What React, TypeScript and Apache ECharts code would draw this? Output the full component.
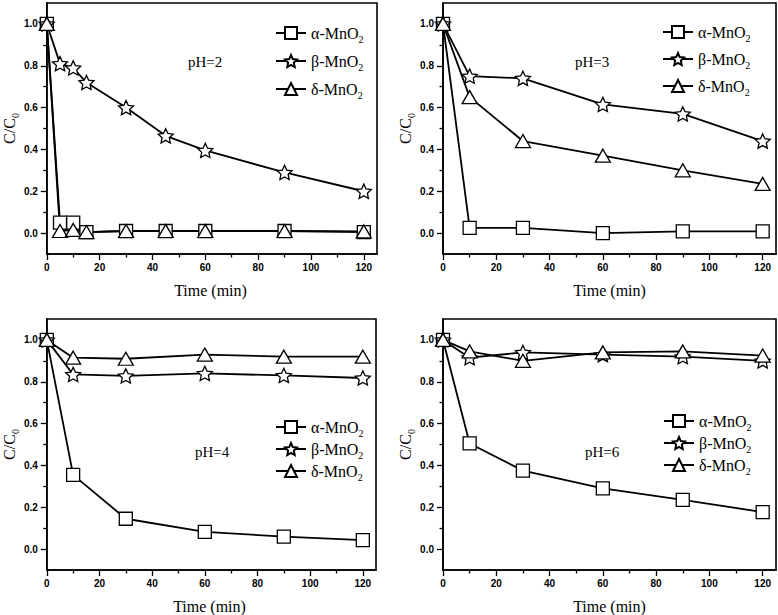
import React, { useEffect, useRef } from 'react';
import * as echarts from 'echarts';

// time points (min)
const timesPH2 = [0, 5, 10, 15, 30, 45, 60, 90, 120];
const times = [0, 10, 30, 60, 90, 120];

// C/C0
const alphaPH2 = [1.0, 0.05, 0.05, 0.005, 0.01, 0.01, 0.01, 0.01, 0.005];
const betaPH2 = [1.0, 0.81, 0.79, 0.72, 0.6, 0.465, 0.395, 0.29, 0.2];
const deltaPH2 = [1.0, 0.01, 0.015, 0.005, 0.01, 0.01, 0.01, 0.01, 0.008];

const alphaPH3 = [1.0, 0.025, 0.025, 0.0, 0.008, 0.008];
const betaPH3 = [1.0, 0.75, 0.74, 0.615, 0.57, 0.44];
const deltaPH3 = [1.0, 0.65, 0.44, 0.37, 0.3, 0.235];

const alphaPH4 = [1.0, 0.355, 0.145, 0.082, 0.06, 0.043];
const betaPH4 = [1.0, 0.835, 0.828, 0.84, 0.83, 0.818];
const deltaPH4 = [1.0, 0.915, 0.91, 0.93, 0.92, 0.92];

const alphaPH6 = [1.0, 0.505, 0.375, 0.29, 0.235, 0.177];
const betaPH6 = [1.0, 0.915, 0.94, 0.93, 0.92, 0.9];
const deltaPH6 = [1.0, 0.945, 0.9, 0.94, 0.945, 0.925];

const seriesNames = ['α-MnO2', 'β-MnO2', 'δ-MnO2'];
const phLabels = ['pH=2', 'pH=3', 'pH=4', 'pH=6'];
const xName = 'Time (min)';

const xMajor = [0, 20, 40, 60, 80, 100, 120];
const yMajor = [0, 0.2, 0.4, 0.6, 0.8, 1.0];
const yMinor = [0.1, 0.3, 0.5, 0.7, 0.9];

const STAR = 'path://M50,0L64.1,30.6L97.6,34.5L72.8,57.4L79.4,90.5L50,74L20.6,90.5L27.2,57.4L2.4,34.5L35.9,30.6Z';
const SERIF = '"Liberation Serif", "Times New Roman", serif';
const SANS = '"Liberation Sans", Arial, sans-serif';

const GRID_W = 333;
const GRID_H = 251;

const panels = [
  { x: timesPH2, ys: [alphaPH2, betaPH2, deltaPH2], grid: { left: 44, top: 3 }, legend: { left: 275, top: 25, gap: 9 }, ph: { x: 188, y: 62 } },
  { x: times, ys: [alphaPH3, betaPH3, deltaPH3], grid: { left: 443, top: 3 }, legend: { left: 662, top: 24, gap: 8 }, ph: { x: 575, y: 62 } },
  { x: times, ys: [alphaPH4, betaPH4, deltaPH4], grid: { left: 43, top: 319 }, legend: { left: 275, top: 419, gap: 3 }, ph: { x: 195, y: 452 } },
  { x: times, ys: [alphaPH6, betaPH6, deltaPH6], grid: { left: 443, top: 319 }, legend: { left: 663, top: 413, gap: 3 }, ph: { x: 585, y: 452 } },
];

const symbols = ['rect', STAR, 'triangle'];
const symbolSizes: any[] = [13, 15, [15, 13]];

const black = '#000';
const tickLine = { color: black, width: 1.3 };
const labelStyle = { color: black, fontFamily: SANS, fontWeight: 'bold' as const, fontSize: 10 };
const nameRich = (size: number, sub: number, lh: number) => ({
  a: { fontFamily: SERIF, fontSize: size, fontWeight: 'normal', color: black, lineHeight: lh },
  s: { fontFamily: SERIF, fontSize: sub, fontWeight: 'normal', color: black, lineHeight: lh, verticalAlign: 'bottom' },
});

export default function App() {
  const ref = useRef<HTMLDivElement | null>(null);

  useEffect(() => {
    if (!ref.current) return;
    const chart = echarts.init(ref.current, undefined, { renderer: 'svg' });

    const grids: any[] = [];
    const xAxes: any[] = [];
    const yAxes: any[] = [];
    const series: any[] = [];
    const legends: any[] = [];
    const graphics: any[] = [];

    panels.forEach((p, g) => {
      grids.push({
        left: p.grid.left, top: p.grid.top, width: GRID_W, height: GRID_H,
        show: true, borderColor: black, borderWidth: 1.6, backgroundColor: 'transparent',
      });
      xAxes.push({
        gridIndex: g, type: 'value', min: 0, max: 125, interval: 20, position: 'bottom',
        axisLine: { onZero: false, lineStyle: { color: black, width: 1.6 } },
        axisTick: { length: 6, lineStyle: tickLine, customValues: xMajor },
        minorTick: { show: true, splitNumber: 2, length: 3.5, lineStyle: tickLine },
        axisLabel: { ...labelStyle, margin: 8, customValues: xMajor },
        splitLine: { show: false },
      });
      yAxes.push({
        gridIndex: g, type: 'value', min: -0.1, max: 1.1, position: 'left',
        name: '{a|C/C}{s|0}', nameLocation: 'middle', nameGap: 20,
        nameTextStyle: { fontFamily: SERIF, fontSize: 16, fontWeight: 'normal', color: black, rich: nameRich(16, 10, 22) },
        axisLine: { onZero: false, lineStyle: { color: black, width: 1.6 } },
        axisTick: { length: 6, lineStyle: tickLine, customValues: yMajor },
        axisLabel: { ...labelStyle, margin: 9, customValues: yMajor, formatter: (v: number) => v.toFixed(1) },
        splitLine: { show: false },
      });
      // overlay axis carrying only the minor ticks of the y axis
      yAxes.push({
        gridIndex: g, type: 'value', min: -0.1, max: 1.1, position: 'left',
        axisLine: { show: false },
        axisTick: { length: 3.5, lineStyle: tickLine, customValues: yMinor },
        axisLabel: { show: false },
        splitLine: { show: false },
      });
      p.ys.forEach((vals, s) => {
        series.push({
          name: seriesNames[s], type: 'line', xAxisIndex: g, yAxisIndex: 2 * g,
          data: p.x.map((t, i) => [t, vals[i]]),
          symbol: symbols[s], symbolSize: symbolSizes[s], symbolKeepAspect: true,
          itemStyle: { color: '#fff', borderColor: black, borderWidth: 1.3 },
          lineStyle: { color: black, width: 1.8 },
          emphasis: { disabled: true },
        });
      });
      legends.push({
        orient: 'vertical', left: p.legend.left, top: p.legend.top, itemGap: p.legend.gap,
        itemWidth: 30, itemHeight: 15, padding: 0, selectedMode: false,
        data: seriesNames,
        formatter: (name: string) => `{a|${name.slice(0, -1)}}{s|2}`,
        textStyle: {
          fontFamily: SERIF, fontSize: 16, color: black,
          rich: {
            a: { fontFamily: SERIF, fontSize: 16, color: black, lineHeight: 20 },
            s: { fontFamily: SERIF, fontSize: 10, color: black, lineHeight: 22, verticalAlign: 'bottom' },
          },
        },
      });
      // x axis title
      graphics.push({
        type: 'text', x: p.grid.left + GRID_W / 2, y: p.grid.top + GRID_H + 36,
        style: { text: xName, font: `16px ${SERIF}`, fill: black, align: 'center', verticalAlign: 'middle' },
      });
      graphics.push({
        type: 'text', x: p.ph.x, y: p.ph.y,
        style: { text: phLabels[g], font: `15px ${SERIF}`, fill: black, verticalAlign: 'middle' },
      });
    });

    chart.setOption({
      animation: false,
      backgroundColor: '#fff',
      grid: grids,
      xAxis: xAxes,
      yAxis: yAxes,
      legend: legends,
      series,
      graphic: graphics,
    });

    return () => { chart.dispose(); };
  }, []);

  return <div ref={ref} style={{ position: 'fixed', left: 0, top: 0, width: 778, height: 615 }} />;
}
